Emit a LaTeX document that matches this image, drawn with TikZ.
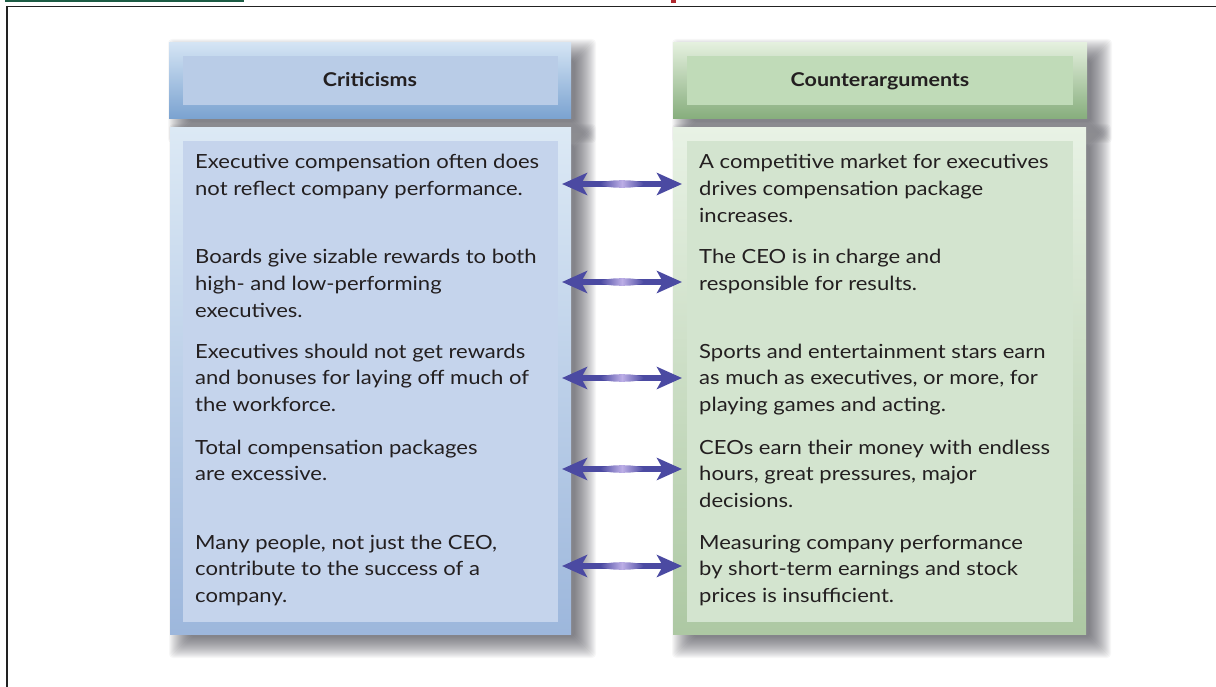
\documentclass[tikz,border=0pt]{standalone}
\usepackage{fontspec}
\setmainfont{Lato}[FakeStretch=1.13]
\usetikzlibrary{arrows.meta,backgrounds,calc}
\definecolor{hdrLtop}{HTML}{D4E4F4}
\definecolor{hdrLbot}{HTML}{7AA2D0}
\definecolor{hdrLin}{HTML}{B9CCE7}
\definecolor{bodLtop}{HTML}{DCE9F5}
\definecolor{bodLbot}{HTML}{9DB7DC}
\definecolor{bodLin}{HTML}{C5D4EC}
\definecolor{hdrRtop}{HTML}{E4F0DE}
\definecolor{hdrRbot}{HTML}{86AD7C}
\definecolor{hdrRin}{HTML}{C0DBB8}
\definecolor{bodRtop}{HTML}{E8F2E5}
\definecolor{bodRbot}{HTML}{ADC8A3}
\definecolor{bodRin}{HTML}{D3E4CF}
\definecolor{arrowc}{HTML}{4B4AA2}
\definecolor{arrowhi}{HTML}{BCAEE6}
\definecolor{txtc}{HTML}{231F20}
\definecolor{framec}{HTML}{222222}
\definecolor{topgreen}{HTML}{1C5C44}
\definecolor{topred}{HTML}{B0282E}
\definecolor{shadowc}{HTML}{3A3A44}
\newcommand{\bodyfnt}{\fontsize{19.5}{26.6}\selectfont}
\newcommand{\hdrfnt}{\fontsize{19}{23}\selectfont\bfseries}
\newcommand{\txtlines}[1]{\begin{tabular}[t]{@{}l@{}}#1\end{tabular}}
\begin{document}
\begin{tikzpicture}[x=1pt,y=-1pt,
  outerbox/.style={draw=none, inner sep=0, outer sep=0},
  innerbox/.style={draw=none, inner sep=0, outer sep=0},
  hdrtext/.style={font=\hdrfnt, text=txtc, anchor=base, inner sep=0},
  bodytext/.style={font=\bodyfnt, text=txtc, anchor=base west, inner sep=0},
  shadowlayer/.style={fill=shadowc, opacity=0.04},
  dblarrow/.style={draw=arrowc, line width=6pt,
    {Stealth[length=25pt, width=22pt, inset=6pt]}-{Stealth[length=25pt, width=22pt, inset=6pt]}},
]
\useasboundingbox (0,0) rectangle (1216,687);

% left column
\node[outerbox, top color=hdrLtop, bottom color=hdrLbot, minimum width=402pt, minimum height=76pt] (hL) at (370,81) {};
\node[innerbox, fill=hdrLin, minimum width=375pt, minimum height=49pt] (hLin) at (370.5,80.5) {};
\node[hdrtext] (hLt) at (370,87) {Criticisms};
\node[outerbox, top color=bodLtop, bottom color=bodLbot, minimum width=401pt, minimum height=506pt] (bL) at (370.5,381) {};
\node[innerbox, fill=bodLin, minimum width=375pt, minimum height=481pt] (bLin) at (370.5,381.5) {};

% right column
\node[outerbox, top color=hdrRtop, bottom color=hdrRbot, minimum width=414pt, minimum height=76pt] (hR) at (880,81) {};
\node[innerbox, fill=hdrRin, minimum width=386pt, minimum height=49pt] (hRin) at (880,80.5) {};
\node[hdrtext] (hRt) at (880,87) {Counterarguments};
\node[outerbox, top color=bodRtop, bottom color=bodRbot, minimum width=413pt, minimum height=506pt] (bR) at (879.5,381) {};
\node[innerbox, fill=bodRin, minimum width=386pt, minimum height=481pt] (bRin) at (880,381.5) {};

% left texts
\node[bodytext] (l1) at (195,169) {\txtlines{Executive compensation often does\\not reflect company performance.}};
\node[bodytext] (l2) at (195,264) {\txtlines{Boards give sizable rewards to both\\high- and low-performing\\executives.}};
\node[bodytext] (l3) at (195,358) {\txtlines{Executives should not get rewards\\and bonuses for laying off much of\\the workforce.}};
\node[bodytext] (l4) at (195,454) {\txtlines{Total compensation packages\\are excessive.}};
\node[bodytext] (l5) at (195,549) {\txtlines{Many people, not just the CEO,\\contribute to the success of a\\company.}};

% right texts
\node[bodytext] (r1) at (699,169) {\txtlines{A competitive market for executives\\drives compensation package\\increases.}};
\node[bodytext] (r2) at (699,264) {\txtlines{The CEO is in charge and\\responsible for results.}};
\node[bodytext] (r3) at (699,358) {\txtlines{Sports and entertainment stars earn\\as much as executives, or more, for\\playing games and acting.}};
\node[bodytext] (r4) at (699,454) {\txtlines{CEOs earn their money with endless\\hours, great pressures, major\\decisions.}};
\node[bodytext] (r5) at (699,549) {\txtlines{Measuring company performance\\by short-term earnings and stock\\prices is insufficient.}};

% arrows
\foreach \i/\yy in {1/184,2/282,3/378,4/469,5/566}{
  \coordinate (aL\i) at (562,\yy);
  \coordinate (aR\i) at (682,\yy);
  \draw[dblarrow] (aL\i) -- (aR\i);
  \path[left color=arrowc, right color=arrowc, middle color=arrowhi]
     ($(aL\i)!0.5!(aR\i)$) ellipse [x radius=22pt, y radius=3.8pt];
}

% background: page, furniture and soft shadows
\begin{scope}[on background layer]
  \fill[white] (0,0) rectangle (1216,687);
  \fill[topgreen] (5,0) rectangle (244,2);
  \fill[topred] (671,0) rectangle (676,3);
  \draw[framec, line width=1.6pt] (6,6.5) -- (1216,6.5);
  \draw[framec, line width=1.6pt] (7,6) -- (7,687);
  \foreach \bx in {hL,bL,hR,bR}{
    \foreach \e in {-8,...,13}{
      \fill[shadowlayer, rounded corners=4pt]
        ([shift={(12-\e,9-\e)}]\bx.north west) rectangle ([shift={(12+\e,11+\e)}]\bx.south east);
    }
  }
\end{scope}
\end{tikzpicture}
\end{document}
